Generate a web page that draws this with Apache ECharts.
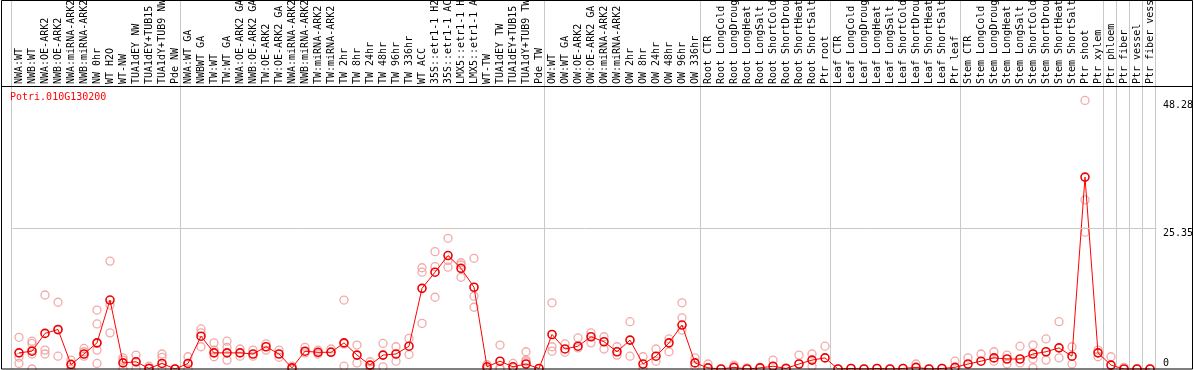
<!DOCTYPE html>
<html><head><meta charset="utf-8">
<script src="https://cdn.jsdelivr.net/npm/echarts@6/dist/echarts.min.js"></script>
<style>html,body{margin:0;padding:0;background:#fff}#c{width:1194px;height:370px}</style>
</head><body><div id="c"></div>
<script>
const geneId = 'Potri.010G130200';
const categories = [
 'NWA:WT','NWB:WT','NWA:OE-ARK2','NWB:OE-ARK2','NWA:miRNA-ARK2','NWB:miRNA-ARK2','NW 0hr','WT H2O','WT-NW','TUA1dEY NW','TUA1dEY+TUB15','TUA1dY+TUB9 NW','Pde NW',
 'NWA:WT GA','NWBWT GA','TW:WT','TW:WT GA','NWA:OE-ARK2 GA','NWB:OE-ARK2 GA','TW:OE-ARK2','TW:OE-ARK2 GA','NWA:miRNA-ARK2','NWB:miRNA-ARK2','TW:miRNA-ARK2','TW:miRNA-ARK2',
 'TW 2hr','TW 8hr','TW 24hr','TW 48hr','TW 96hr','TW 336hr','WT ACC','35S::etr1-1 H2O','35S::etr1-1 ACC','LMX5::etr1-1 H2O','LMX5::etr1-1 ACC','WT-TW','TUA1dEY TW','TUA1dEY+TUB15','TUA1dY+TUB9 TW','Pde TW',
 'OW:WT','OW:WT GA','OW:OE-ARK2','OW:OE-ARK2 GA','OW:miRNA-ARK2','OW:miRNA-ARK2','OW 2hr','OW 8hr','OW 24hr','OW 48hr','OW 96hr','OW 336hr',
 'Root CTR','Root LongCold','Root LongDrought','Root LongHeat','Root LongSalt','Root ShortCold','Root ShortDrought','Root ShortHeat','Root ShortSalt','Ptr root',
 'Leaf CTR','Leaf LongCold','Leaf LongDrought','Leaf LongHeat','Leaf LongSalt','Leaf ShortCold','Leaf ShortDrought','Leaf ShortHeat','Leaf ShortSalt','Ptr leaf',
 'Stem CTR','Stem LongCold','Stem LongDrought','Stem LongHeat','Stem LongSalt','Stem ShortCold','Stem ShortDrought','Stem ShortHeat','Stem ShortSalt','Ptr shoot','Ptr xylem',
 'Ptr phloem','Ptr fiber','Ptr vessel','Ptr fiber vessel'
];
const means = [
 2.9,3.2,6.4,7.1,0.8,2.7,4.7,12.4,1.1,1.3,0.1,1.0,0,
 1.0,5.9,2.9,2.9,2.9,2.7,4.0,2.7,0.2,3.2,3.0,3.0,
 4.7,2.5,0.7,2.5,2.7,4.1,14.5,17.4,20.4,18.1,14.7,0.4,1.4,0.4,0.9,0.1,
 6.2,3.6,4.1,5.8,4.9,3.1,5.2,0.9,2.3,4.7,7.9,1.1,
 0.2,0,0.3,0,0.2,0.5,0.1,0.9,1.6,2.0,
 0,0.1,0,0.1,0,0.1,0.3,0,0.1,0.3,
 0.9,1.4,2.0,1.8,1.8,2.7,3.1,3.8,2.3,34.5,2.9,
 0.7,0,0,0
];
const replicates = [
 [5.7,2.1,1.0],[5.0,4.6,3.4,2.7,0],[13.3,3.4,2.7],[12.0,7.0,2.3],[1.6,0.9,0],[3.7,3.1,2.3],[10.6,8.1,4.6,3.4,1.0],[19.4,11.5,6.5],[2.0,1.6,0],[2.5,1.3,0.1],[0.5,0.2],[2.7,2.1,0.3],[0],
 [2.2,1.0,0],[7.2,6.5,4.0],[4.7,3.4,2.2],[5.0,3.9,1.6],[3.6,2.3],[3.4,2.3],[4.5,3.4],[3.4,2.1],[0.5,0],[3.9,2.9],[3.4,2.7],[3.6,3.1],
 [12.4,4.5,0.5],[4.3,1.1],[1.3,0.2],[4.6,0.4],[4.0,1.4],[5.5,2.6],[18.2,17.4,8.2],[21.1,18.4,12.9],[23.5,19.5,18.3],[19.1,18.7,16.5],[19.9,13.1,11.1],[0.8,0.2,0],[4.3,0.2,0],[1.0,0.2],[3.1,1.6,1.3],[0.1],
 [11.9,4.0,3.2],[4.5,3.0],[5.6,3.8],[6.5,4.7],[5.8,3.6],[4.0,2.5],[8.5,2.3],[2.2,0.2],[3.6,1.4],[5.4,3.1],[11.9,9.2,7.0],[2.0,0.5],
 [0.9],[0],[0.7],[0.2],[0.3],[1.6],[0.2],[2.5],[2.7,0.5],[4.1],
 [0],[0.1],[0],[0.1],[0],[0.1],[0.9],[0],[0.1],[1.4],
 [2.0],[2.7],[3.1,1.4],[2.5,0.9],[4.1,1.1],[4.3,1.8,0.2],[5.4,1.6],[8.5,2.0],[4.0,0.9],[48.28,30.4,24.6],[3.4,2.2],
 [2.2],[0.3],[0],[0]
];
const yTickValues = [0, 25.35, 48.28];
const yTickLabels = ['0', '25.35', '48.28'];
const gridLineValue = 25.35;
const separatorBoundaries = [0, 13, 41, 53, 63, 73, 84, 85, 86, 87, 88];

const repData = [];
replicates.forEach((arr, i) => arr.forEach(v => repData.push([i, v])));

const FONT = 'DejaVu Sans Mono';
const chart = echarts.init(document.getElementById('c'), null, {renderer: 'canvas'});
chart.setOption({
  animation: false,
  backgroundColor: '#ffffff',
  title: {
    text: geneId, left: 10, top: 92, padding: 0,
    textStyle: {color: '#ff0000', fontFamily: FONT, fontSize: 10, fontWeight: 'normal'}
  },
  grid: {left: 12.5, right: 37.5, top: 86, bottom: 1, containLabel: false, outerBoundsMode: 'none'},
  xAxis: {
    type: 'category', position: 'top', data: categories, boundaryGap: true,
    axisLine: {show: false}, axisTick: {show: false}, splitLine: {show: false},
    axisLabel: {interval: 0, rotate: 90, margin: 2, color: '#000', fontFamily: FONT, fontSize: 10}
  },
  yAxis: {
    type: 'value', position: 'right', min: 0, max: 50.88,
    axisLine: {show: false}, axisTick: {show: false}, axisLabel: {show: false}, splitLine: {show: false}
  },
  series: [
    {
      type: 'scatter', data: repData, symbol: 'circle', symbolSize: 8, z: 1,
      itemStyle: {color: 'rgba(0,0,0,0)', borderColor: '#f09494', borderWidth: 1.3},
      silent: true
    },
    {
      type: 'line', data: means, symbol: 'circle', symbolSize: 8, showSymbol: true, z: 3,
      lineStyle: {color: '#ff0000', width: 1},
      itemStyle: {color: 'rgba(0,0,0,0)', borderColor: '#ee0000', borderWidth: 1.6},
      markLine: {
        silent: true, symbol: 'none', label: {show: false},
        lineStyle: {color: '#c8c8c8', width: 1, type: 'solid'},
        data: [{yAxis: gridLineValue}]
      }
    }
  ]
});

// Separator lines, y labels and frame
const p0 = chart.convertToPixel({xAxisIndex: 0}, 0);
const p1 = chart.convertToPixel({xAxisIndex: 0}, 1);
const band = p1 - p0;
const bottomY = chart.convertToPixel({yAxisIndex: 0}, 0);
const graphics = [];
separatorBoundaries.forEach(b => {
  const x = Math.round(p0 + (b - 0.5) * band - 1.5) + 0.5;
  graphics.push({type: 'line', z: 0, silent: true,
    shape: {x1: x, y1: 0, x2: x, y2: bottomY},
    style: {stroke: '#c8c8c8', lineWidth: 1}});
});
yTickValues.forEach((v, i) => {
  const y = chart.convertToPixel({yAxisIndex: 0}, v);
  graphics.push({type: 'text', z: 5, silent: true, x: 1163, y: v === 0 ? y - 1 : y,
    style: {text: yTickLabels[i], fill: '#000', font: '10px "' + FONT + '"',
      textAlign: 'left', textVerticalAlign: v === 0 ? 'bottom' : 'top'}});
});
graphics.push({type: 'rect', z: 10, silent: true,
  shape: {x: 1.5, y: 0.5, width: 1191, height: bottomY - 0.5},
  style: {fill: 'none', stroke: '#000', lineWidth: 1}});
graphics.push({type: 'line', z: 10, silent: true,
  shape: {x1: 1, y1: 86.5, x2: 1192, y2: 86.5},
  style: {stroke: '#000', lineWidth: 1}});
chart.setOption({graphic: {elements: graphics}});
</script>
</body></html>
